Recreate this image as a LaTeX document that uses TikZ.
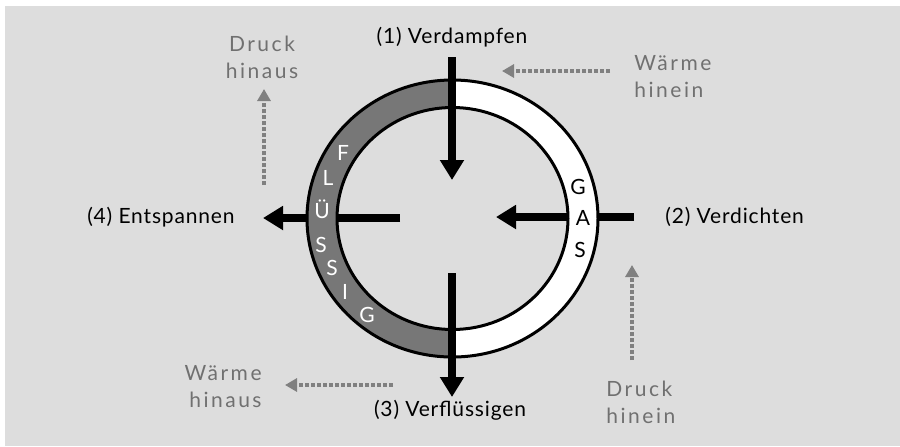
\documentclass[tikz,border=0pt]{standalone}
\usepackage{fontspec}
\setmainfont{Lato}
\usepackage{xcolor}
\usepackage{tikz}
\usetikzlibrary{arrows.meta}
\definecolor{bgGray}{HTML}{DDDDDD}
\definecolor{ringGray}{HTML}{777777}
\definecolor{hintLine}{HTML}{808080}
\definecolor{hintInk}{HTML}{707070}
\tikzset{
  phase/.style={draw=black, line width=4pt, -{Triangle[length=10pt, width=11.5pt]}},
  hint/.style={draw=hintLine, line width=2pt, dash pattern=on 2pt off 1pt,
    -{Triangle[length=6pt, width=6.5pt]}},
  phaselabel/.style={font=\fontsize{10.5}{13}\selectfont\addfontfeature{LetterSpace=4},
    text=black, inner sep=1pt},
  hintlabel/.style={font=\fontsize{10.5}{13.5}\selectfont\addfontfeature{LetterSpace=12},
    text=hintInk, inner sep=1pt},
  ringletter/.style={font=\fontsize{10.5}{12}\selectfont, inner sep=0pt},
}
\newcommand{\ringhalf}[2]{%
  \begin{scope}
    \clip #1;
    \fill[#2, even odd rule] (c) ellipse [x radius=72.75pt, y radius=69.25pt]
                             (c) ellipse [x radius=57.75pt, y radius=55.5pt];
  \end{scope}
}

\begin{document}
\begin{tikzpicture}[x=0.5pt, y=-0.5pt]
  \useasboundingbox (0,0) rectangle (900,446);
  \fill[bgGray] (5,6) rectangle (900,446);
  \coordinate (c) at (452.5,218.5);
  % the four steps
  \coordinate (inTop) at (452,57);    \coordinate (tipTop) at (452,180);
  \coordinate (inRight) at (634,217); \coordinate (tipRight) at (496,217);
  \coordinate (inBottom) at (452,273); \coordinate (tipBottom) at (452,397);
  \coordinate (inLeft) at (400,218);  \coordinate (tipLeft) at (263,218);
  \draw[phase] (inRight) -- (tipRight);
  \draw[phase] (inLeft) -- (tipLeft);
  % ring: liquid half and gas half
  \ringhalf{(0,0) rectangle (452.5,446)}{ringGray}
  \ringhalf{(452.5,0) rectangle (900,446)}{white}
  \draw[line width=1.5pt] (c) ellipse [x radius=72.75pt, y radius=69.25pt];
  \draw[line width=1.5pt] (c) ellipse [x radius=57.75pt, y radius=55.5pt];
  \foreach \p/\t in {{343,153}/F,{328,178}/L,{322,209}/Ü,{321,245}/S,{332,268}/S,{345,292}/I,{367,315}/G}
    \node[ringletter, text=white] at (\p) {\t};
  \foreach \p/\t in {{578,187}/G,{583,218}/A,{580,250}/S}
    \node[ringletter, text=black] at (\p) {\t};
  \draw[phase] (inTop) -- (tipTop);
  \draw[phase] (inBottom) -- (tipBottom);
  \node[phaselabel] (verdampfen) at (452,37) {(1) Verdampfen};
  \node[phaselabel, anchor=west] (verdichten) at (663,217) {(2) Verdichten};
  \node[phaselabel] (verfluessigen) at (450,410) {(3) Verflüssigen};
  \node[phaselabel, anchor=east] (entspannen) at (237,217) {(4) Entspannen};
  % heat and pressure hints
  \node[hintlabel, align=center] (druckAus) at (262,57) {Druck\\hinaus};
  \node[hintlabel, align=left, anchor=west] (waermeEin) at (632,76.5) {Wärme\\hinein};
  \node[hintlabel, align=right, anchor=east] (waermeAus) at (264,386.5) {Wärme\\hinaus};
  \node[hintlabel, align=left, anchor=west] (druckEin) at (604,402) {Druck\\hinein};
  \coordinate (daFrom) at (264,185);  \coordinate (daTo) at (264,89);
  \coordinate (weFrom) at (610,71);   \coordinate (weTo) at (502,71);
  \coordinate (waFrom) at (393,385);  \coordinate (waTo) at (285,385);
  \coordinate (deFrom) at (632,360);  \coordinate (deTo) at (632,265);
  \draw[hint] (daFrom) -- (daTo);
  \draw[hint] (weFrom) -- (weTo);
  \draw[hint] (waFrom) -- (waTo);
  \draw[hint] (deFrom) -- (deTo);
\end{tikzpicture}
\end{document}
